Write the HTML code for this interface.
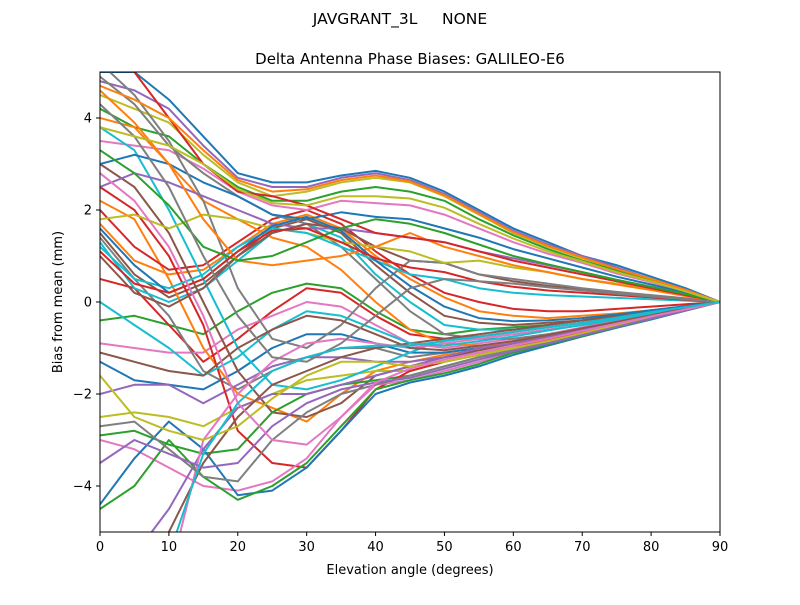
<!DOCTYPE html>
<html><head><meta charset="utf-8"><style>
body{margin:0;background:#fff;}
svg text{font-family:"DejaVu Sans","Liberation Sans",sans-serif;fill:#000;}
</style></head><body>
<svg id="chart" width="800" height="600" xmlns="http://www.w3.org/2000/svg">
<rect width="800" height="600" fill="#fff"/>
<text x="400" y="24" font-size="15.5" text-anchor="middle" xml:space="preserve">JAVGRANT_3L     NONE</text>
<text x="410" y="64" font-size="15" text-anchor="middle">Delta Antenna Phase Biases: GALILEO-E6</text>
<defs><clipPath id="pc"><rect x="100" y="72" width="620" height="460"/></clipPath></defs>
<g id="lines" clip-path="url(#pc)"></g>
<rect x="100" y="72" width="620" height="460" fill="none" stroke="#000" stroke-width="1"/>
<g id="xt"></g>
<g id="yt"></g>
<text x="410" y="574" font-size="13" text-anchor="middle">Elevation angle (degrees)</text>
<text transform="translate(62,302) rotate(-90)" font-size="13" text-anchor="middle">Bias from mean (mm)</text>
</svg>
<script>
const elevations=[0,5,10,15,20,25,30,35,40,45,50,55,60,65,70,75,80,85,90];
const xTicks=[0,10,20,30,40,50,60,70,80,90];
const yTicks=[-4,-2,0,2,4];
const yTickLabels=["\u22124","\u22122","0","2","4"];
const s01=[5.0,5.0,4.4,3.6,2.8,2.6,2.6,2.75,2.85,2.7,2.4,2.0,1.6,1.3,1.0,0.8,0.55,0.3,0];
const s02=[1.7,0.9,0.6,0.7,1.2,1.7,1.9,1.6,1.0,0.5,0.1,-0.2,-0.3,-0.35,-0.3,-0.25,-0.18,-0.1,0];
const s03=[-0.4,-0.3,-0.5,-0.7,-0.2,0.2,0.4,0.3,-0.2,-0.6,-0.7,-0.6,-0.55,-0.5,-0.4,-0.3,-0.2,-0.1,0];
const s04=[0.5,0.3,-0.5,-1.3,-0.8,-0.2,0.3,0.2,-0.3,-0.7,-0.8,-0.75,-0.65,-0.55,-0.45,-0.33,-0.22,-0.11,0];
const s05=[4.8,4.6,4.2,3.4,2.7,2.5,2.5,2.7,2.8,2.65,2.35,1.95,1.55,1.25,1.0,0.75,0.5,0.27,0];
const s06=[1.5,0.6,0.1,0.4,1.0,1.6,1.8,1.5,0.8,0.2,-0.3,-0.45,-0.5,-0.45,-0.4,-0.3,-0.2,-0.1,0];
const s07=[-0.9,-1.0,-1.1,-1.1,-0.6,-0.3,0.0,-0.1,-0.5,-0.9,-1.0,-0.9,-0.8,-0.7,-0.55,-0.4,-0.28,-0.14,0];
const s08=[1.4,0.5,-0.3,-1.5,-1.9,-1.5,-1.2,-1.0,-1.0,-1.2,-1.1,-1.0,-0.85,-0.72,-0.58,-0.44,-0.29,-0.15,0];
const s09=[4.5,4.2,3.9,3.2,2.6,2.3,2.4,2.6,2.7,2.6,2.3,1.9,1.5,1.2,0.95,0.7,0.5,0.25,0];
const s10=[1.3,0.3,0.0,0.3,0.9,1.5,1.7,1.4,0.6,0.0,-0.5,-0.6,-0.6,-0.55,-0.45,-0.35,-0.22,-0.11,0];
const s11=[-1.3,-1.7,-1.8,-1.9,-1.5,-1.0,-0.7,-0.7,-0.9,-1.1,-1.1,-1.0,-0.9,-0.75,-0.6,-0.45,-0.3,-0.15,0];
const s12=[2.2,1.8,0.5,-1.0,-2.0,-2.3,-2.6,-2.0,-1.5,-1.3,-1.15,-1.05,-0.9,-0.75,-0.6,-0.45,-0.3,-0.15,0];
const s13=[4.2,3.8,3.6,3.0,2.5,2.2,2.2,2.4,2.5,2.4,2.2,1.8,1.45,1.15,0.9,0.68,0.47,0.24,0];
const s14=[2.0,1.2,0.7,0.8,1.3,1.8,2.0,1.7,1.1,0.6,0.2,0.0,-0.15,-0.2,-0.2,-0.15,-0.1,-0.05,0];
const s15=[-2.0,-1.8,-1.8,-2.2,-1.8,-1.4,-1.2,-1.2,-1.3,-1.3,-1.2,-1.1,-0.95,-0.8,-0.65,-0.5,-0.33,-0.17,0];
const s16=[3.0,2.5,1.5,0.0,-1.5,-2.4,-2.5,-2.2,-1.6,-1.4,-1.2,-1.05,-0.9,-0.75,-0.6,-0.45,-0.3,-0.15,0];
const s17=[3.5,3.4,3.3,2.9,2.4,2.1,2.0,2.2,2.15,2.1,1.9,1.6,1.3,1.05,0.85,0.62,0.43,0.22,0];
const s18=[4.9,4.3,3.4,2.8,2.3,1.9,1.7,1.2,0.5,-0.2,-0.7,-0.8,-0.8,-0.7,-0.6,-0.45,-0.3,-0.15,0];
const s19=[-2.5,-2.4,-2.5,-2.7,-2.3,-2.0,-1.7,-1.6,-1.5,-1.5,-1.3,-1.15,-1.0,-0.85,-0.7,-0.52,-0.35,-0.18,0];
const s20=[3.8,3.3,2.0,0.5,-1.0,-1.8,-1.9,-1.7,-1.4,-1.1,-0.8,-0.8,-0.7,-0.6,-0.5,-0.38,-0.25,-0.13,0];
const s21=[3.0,3.2,3.0,2.6,2.3,1.9,1.8,1.95,1.85,1.8,1.6,1.4,1.15,0.95,0.75,0.55,0.38,0.2,0];
const s22=[4.0,3.8,3.0,2.2,1.8,1.4,1.2,0.7,0.0,-0.6,-0.9,-0.95,-0.9,-0.8,-0.65,-0.5,-0.33,-0.17,0];
const s23=[-2.9,-2.8,-3.1,-3.3,-3.2,-2.4,-2.0,-1.8,-1.7,-1.6,-1.4,-1.2,-1.05,-0.9,-0.72,-0.54,-0.36,-0.18,0];
const s24=[2.5,2.0,1.0,-0.5,-2.8,-3.5,-3.6,-2.8,-1.9,-1.5,-1.3,-1.15,-1.0,-0.82,-0.66,-0.5,-0.33,-0.17,0];
const s25=[2.5,2.8,2.6,2.3,2.0,1.7,1.6,1.6,1.5,1.4,1.3,1.1,0.95,0.8,0.65,0.48,0.33,0.17,0];
const s26=[1.0,0.2,-0.1,0.3,1.0,1.5,1.7,1.6,1.2,0.9,0.85,0.6,0.45,0.35,0.28,0.2,0.14,0.07,0];
const s27=[-3.0,-3.2,-3.6,-4.0,-4.1,-3.9,-3.4,-2.5,-1.8,-1.7,-1.5,-1.3,-1.1,-0.9,-0.73,-0.55,-0.37,-0.19,0];
const s28=[5.2,4.5,3.5,2.2,0.3,-0.8,-1.0,-0.5,0.3,0.9,0.85,0.6,0.5,0.4,0.3,0.22,0.15,0.08,0];
const s29=[1.8,1.9,1.6,1.9,1.8,1.6,1.5,1.3,1.2,1.1,0.85,0.9,0.75,0.65,0.5,0.4,0.28,0.14,0];
const s30=[1.2,0.5,0.3,0.6,1.2,1.6,1.5,1.2,0.9,0.6,0.5,0.3,0.2,0.15,0.12,0.09,0.06,0.03,0];
const s31=[-4.4,-3.4,-2.6,-3.2,-4.2,-4.1,-3.6,-2.8,-2.0,-1.75,-1.6,-1.4,-1.15,-0.95,-0.75,-0.56,-0.38,-0.19,0];
const s32=[4.6,3.9,3.0,1.8,0.9,0.8,0.9,1.0,1.2,1.5,1.2,1.0,0.8,0.65,0.5,0.38,0.26,0.13,0];
const s33=[-4.5,-4.0,-3.0,-3.8,-4.3,-4.0,-3.5,-2.7,-1.9,-1.7,-1.55,-1.35,-1.1,-0.92,-0.74,-0.55,-0.37,-0.18,0];
const s34=[5.5,5.0,4.0,3.0,2.4,2.3,2.1,1.8,1.5,1.4,1.3,1.1,0.9,0.75,0.6,0.45,0.3,0.15,0];
const s35=[-6,-5.5,-4.5,-3.2,-2.3,-2.0,-2.0,-1.8,-1.6,-1.4,-1.2,-1.0,-0.9,-0.75,-0.6,-0.45,-0.3,-0.15,0];
const s36=[-6,-6,-5.0,-3.5,-2.5,-1.8,-1.5,-1.2,-1.0,-0.9,-0.8,-0.7,-0.6,-0.5,-0.4,-0.3,-0.2,-0.1,0];
const s37=[-6,-6,-6,-3.0,-2.0,-1.3,-0.9,-0.8,-0.9,-1.0,-0.9,-0.8,-0.7,-0.6,-0.5,-0.38,-0.25,-0.12,0];
const s38=[-2.7,-2.6,-3.2,-3.8,-3.9,-3.0,-2.4,-2.0,-1.8,-1.6,-1.4,-1.2,-1.05,-0.88,-0.7,-0.53,-0.35,-0.17,0];
const s39=[-1.6,-2.5,-2.8,-3.0,-2.7,-2.1,-1.6,-1.3,-1.3,-1.4,-1.3,-1.15,-1.0,-0.85,-0.68,-0.5,-0.34,-0.17,0];
const s40=[0.0,-0.5,-1.0,-1.6,-1.2,-0.6,-0.2,-0.3,-0.6,-0.9,-0.95,-0.85,-0.75,-0.62,-0.5,-0.38,-0.25,-0.12,0];
const s41=[1.6,0.8,0.2,0.5,1.1,1.65,1.85,1.55,0.9,0.35,-0.1,-0.35,-0.42,-0.4,-0.35,-0.27,-0.18,-0.09,0];
const s42=[4.7,4.4,4.0,3.3,2.65,2.4,2.45,2.65,2.75,2.62,2.32,1.92,1.52,1.22,0.97,0.72,0.5,0.26,0];
const s43=[3.3,2.8,2.1,1.2,0.9,1.0,1.3,1.6,1.8,1.7,1.5,1.25,1.0,0.82,0.65,0.48,0.33,0.17,0];
const s44=[1.1,0.4,0.2,0.5,1.1,1.55,1.6,1.3,0.95,0.75,0.65,0.45,0.33,0.25,0.2,0.15,0.1,0.05,0];
const s45=[-3.5,-3.0,-3.3,-3.6,-3.5,-2.7,-2.2,-1.9,-1.75,-1.65,-1.45,-1.25,-1.07,-0.9,-0.72,-0.54,-0.36,-0.18,0];
const s46=[-1.1,-1.3,-1.5,-1.6,-1.0,-0.6,-0.3,-0.4,-0.7,-1.0,-1.05,-0.95,-0.85,-0.72,-0.57,-0.43,-0.29,-0.14,0];
const s47=[2.8,2.2,1.2,-0.3,-2.2,-3.0,-3.1,-2.5,-1.75,-1.45,-1.25,-1.1,-0.95,-0.8,-0.63,-0.47,-0.31,-0.16,0];
const s48=[4.3,3.6,2.5,1.0,-0.3,-1.2,-1.3,-0.9,-0.3,0.3,0.5,0.45,0.4,0.32,0.25,0.18,0.12,0.06,0];
const s49=[3.8,3.6,3.4,3.0,2.45,2.15,2.1,2.3,2.3,2.25,2.05,1.7,1.38,1.1,0.88,0.65,0.45,0.23,0];
const s50=[-6,-6,-5.5,-3.3,-2.2,-1.5,-1.2,-1.0,-0.95,-0.95,-0.85,-0.75,-0.65,-0.55,-0.45,-0.34,-0.22,-0.11,0];
const seriesList=[s01,s02,s03,s04,s05,s06,s07,s08,s09,s10,s11,s12,s13,s14,s15,s16,s17,s18,s19,s20,s21,s22,s23,s24,s25,s26,s27,s28,s29,s30,s31,s32,s33,s34,s35,s36,s37,s38,s39,s40,s41,s42,s43,s44,s45,s46,s47,s48,s49,s50];
const colors=["#1f77b4","#ff7f0e","#2ca02c","#d62728","#9467bd","#8c564b","#e377c2","#7f7f7f","#bcbd22","#17becf"];
const NS="http://www.w3.org/2000/svg";
const X0=100,X1=720,Y0=532,Y1=72;
function xs(v){return X0+(v-0)/(90-0)*(X1-X0);}
function ys(v){return Y0-(v-(-5))/(5-(-5))*(Y0-Y1);}
const lg=document.getElementById('lines');
seriesList.forEach((s,i)=>{
  const p=document.createElementNS(NS,'polyline');
  p.setAttribute('points',s.map((v,j)=>xs(elevations[j]).toFixed(1)+','+ys(v).toFixed(1)).join(' '));
  p.setAttribute('fill','none');
  p.setAttribute('stroke',colors[i%colors.length]);
  p.setAttribute('stroke-width','2');
  p.setAttribute('stroke-linejoin','round');
  
  
  lg.appendChild(p);
});
const xt=document.getElementById('xt');
xTicks.forEach(t=>{
  const l=document.createElementNS(NS,'line');
  l.setAttribute('x1',xs(t));l.setAttribute('x2',xs(t));l.setAttribute('y1',Y0);l.setAttribute('y2',Y0+4);
  l.setAttribute('stroke','#000');
  
  
  xt.appendChild(l);
  const tx=document.createElementNS(NS,'text');
  tx.setAttribute('x',xs(t));tx.setAttribute('y',Y0+19);tx.setAttribute('font-size','13');tx.setAttribute('text-anchor','middle');
  tx.textContent=String(t);
  
  
  xt.appendChild(tx);
});
const yt=document.getElementById('yt');
yTicks.forEach((t,i)=>{
  const l=document.createElementNS(NS,'line');
  l.setAttribute('x1',X0-4);l.setAttribute('x2',X0);l.setAttribute('y1',ys(t));l.setAttribute('y2',ys(t));
  l.setAttribute('stroke','#000');
  
  
  yt.appendChild(l);
  const tx=document.createElementNS(NS,'text');
  tx.setAttribute('x',X0-8);tx.setAttribute('y',ys(t)+4.5);tx.setAttribute('font-size','13');tx.setAttribute('text-anchor','end');
  tx.textContent=yTickLabels[i];
  
  
  yt.appendChild(tx);
});
</script>
</body></html>
